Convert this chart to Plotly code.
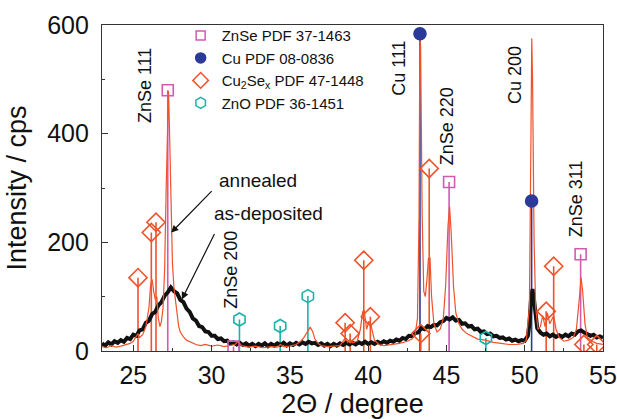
import plotly.graph_objects as go

# ---------------- data ----------------
asdep_x = [23.0, 23.2, 23.4, 23.6, 23.8, 24.0, 24.2, 24.4, 24.6, 24.8, 25.0, 25.2, 25.4, 25.6, 25.8, 26.0, 26.2, 26.4,
           26.6, 26.8, 27.0, 27.2, 27.4, 27.6, 27.8, 28.0, 28.2, 28.4, 28.6, 28.8, 29.0, 29.2, 29.4, 29.6, 29.8, 30.0,
           30.2, 30.4, 30.6, 30.8, 31.0, 31.2, 31.4, 31.6, 31.8, 32.0, 32.2, 32.4, 32.6, 32.8, 33.0, 33.2, 33.4, 33.6,
           33.8, 34.0, 34.2, 34.4, 34.6, 34.8, 35.0, 35.2, 35.4, 35.6, 35.8, 36.0, 36.2, 36.4, 36.6, 36.8, 37.0, 37.2,
           37.4, 37.6, 37.8, 38.0, 38.2, 38.4, 38.6, 38.8, 39.0, 39.2, 39.4, 39.6, 39.8, 40.0, 40.2, 40.4, 40.6, 40.8,
           41.0, 41.2, 41.4, 41.6, 41.8, 42.0, 42.2, 42.4, 42.6, 42.8, 43.0, 43.2, 43.4, 43.6, 43.8, 44.0, 44.2, 44.4,
           44.6, 44.8, 45.0, 45.2, 45.4, 45.6, 45.8, 46.0, 46.2, 46.4, 46.6, 46.8, 47.0, 47.2, 47.4, 47.6, 47.8, 48.0,
           48.2, 48.4, 48.6, 48.8, 49.0, 49.2, 49.4, 49.6, 49.8, 50.0, 50.2, 50.3, 50.4, 50.5, 50.6, 50.7, 50.8, 51.0,
           51.2, 51.4, 51.6, 51.8, 52.0, 52.2, 52.4, 52.6, 52.8, 53.0, 53.2, 53.4, 53.6, 53.8, 54.0, 54.2, 54.4, 54.6,
           54.8, 55.0]
asdep_y = [14, 10, 16, 12, 18, 15, 20, 17, 24, 22, 30, 28, 38, 40, 52, 56, 68, 72,
           84, 90, 102, 108, 117, 110, 106, 94, 90, 78, 72, 60, 56, 46, 44, 36, 35, 28,
           28, 22, 23, 18, 19, 14, 16, 12, 15, 11, 14, 10, 13, 9, 13, 10, 14, 9,
           13, 10, 14, 11, 15, 10, 14, 11, 15, 12, 16, 13, 17, 14, 15, 11, 14, 10,
           13, 9, 13, 10, 14, 11, 15, 12, 15, 12, 16, 13, 17, 13, 16, 13, 17, 14,
           18, 15, 19, 17, 21, 19, 24, 22, 28, 27, 33, 34, 42, 40, 46, 44, 48, 47,
           53, 55, 61, 58, 62, 56, 57, 50, 51, 45, 46, 40, 41, 35, 36, 31, 32, 27,
           28, 24, 25, 21, 23, 19, 21, 18, 20, 19, 28, 50, 95, 114, 92, 60, 42, 34,
           30, 32, 27, 30, 26, 29, 26, 30, 27, 32, 30, 36, 38, 34, 30, 28, 30, 25,
           27, 24]

ann_x = [23.0, 23.3, 23.6, 23.9, 24.2, 24.5, 24.8, 25.0, 25.2, 25.3, 25.4, 25.6, 25.8, 26.0, 26.1, 26.2, 26.3, 26.4,
         26.5, 26.6, 26.7, 26.8, 26.9, 27.0, 27.1, 27.2, 27.25, 27.3, 27.4, 27.5, 27.6, 27.7, 27.8, 27.9, 28.0, 28.2,
         28.4, 28.6, 28.8, 29.0, 29.3, 29.6, 30.0, 30.4, 30.8, 31.2, 31.5, 31.7, 31.9, 32.3, 32.8, 33.3, 33.8, 34.2,
         34.4, 34.6, 35.0, 35.4, 35.7, 35.9, 36.1, 36.3, 36.45, 36.6, 36.8, 37.0, 37.4, 37.8, 38.2, 38.4, 38.55, 38.7,
         38.85, 39.0, 39.3, 39.5, 39.65, 39.75, 39.9, 40.05, 40.2, 40.4, 40.7, 41.0, 41.5, 42.0, 42.5, 42.8, 43.0,
         43.15, 43.25, 43.3, 43.35, 43.45, 43.55, 43.65, 43.75, 43.85, 43.95, 44.05, 44.2, 44.4, 44.6, 44.8, 44.95,
         45.1, 45.2, 45.3, 45.45, 45.6, 45.8, 46.0, 46.3, 46.6, 47.0, 47.5, 48.0, 48.5, 49.0, 49.5, 49.9, 50.1, 50.3,
         50.4, 50.45, 50.5, 50.6, 50.7, 50.85, 51.0, 51.15, 51.3, 51.45, 51.6, 51.85, 52.0, 52.2, 52.5, 52.8, 53.1,
         53.3, 53.5, 53.6, 53.7, 53.85, 54.0, 54.3, 54.6, 55.0]
ann_y = [8, 6, 10, 7, 9, 12, 14, 18, 26, 32, 25, 30, 45, 80, 120, 132, 110, 95,
         100, 60, 45, 55, 80, 150, 300, 470, 478, 420, 250, 160, 115, 90, 65, 45, 35, 26,
         20, 17, 15, 12, 10, 12, 9, 11, 8, 10, 12, 18, 10, 7, 9, 6, 8, 7,
         12, 8, 9, 12, 18, 25, 35, 44, 36, 22, 14, 10, 8, 9, 10, 18, 24, 16,
         22, 15, 18, 40, 72, 75, 40, 55, 45, 20, 12, 10, 12, 14, 18, 22, 30,
         60, 250, 575, 560, 250, 110, 100, 130, 170, 172, 100, 50, 35, 40, 60, 120,
         230, 266, 220, 120, 70, 50, 40, 32, 28, 22, 20, 16, 14, 12, 12, 14, 20, 80,
         400, 575, 500, 200, 80, 40, 45, 65, 45, 70, 50, 65, 40, 25, 18, 20, 25,
         40, 100, 135, 110, 50, 25, 18, 14, 12]

znse_pos = [27.2, 31.4, 45.17, 53.57]
znse_int = [480, 8, 311, 178]
cu_pos = [43.31, 50.44]
cu_int = [584, 276]
cu2se_pos = [25.30, 26.15, 26.45, 38.53, 38.85, 39.72, 40.14, 43.36, 43.90, 51.37, 51.85, 53.78, 54.60]
cu2se_int = [135, 218, 237, 52, 32, 167, 63, 32, 336, 73, 156, 12, 12]
zno_pos = [31.78, 34.38, 36.15, 47.52]
zno_int = [58, 46, 101, 24]

peak_labels = ["ZnSe 111", "ZnSe 200", "Cu 111", "ZnSe 220", "Cu 200", "ZnSe 311"]
peak_label_x = [25.76, 31.19, 41.99, 45.05, 49.38, 53.27]
peak_label_y = [488, 150, 520, 414, 508, 281]

legend_names = ["ZnSe PDF 37-1463", "Cu PDF 08-0836", "Cu<sub>2</sub>Se<sub>x</sub> PDF 47-1448", "ZnO PDF 36-1451"]

x_ticks = [25, 30, 35, 40, 45, 50, 55]
y_ticks = [0, 200, 400, 600]

# ---------------- styles ----------------
C_ZNSE = "#D25AB0"
C_CU = "#2B3A98"
C_CU2SE = "#F0522A"
C_ZNO = "#17B5AA"
C_ANN = "#F0522A"

FONT = "Liberation Sans, Arial, sans-serif"

fig = go.Figure()


def sticks(pos, inten):
    xs, ys = [], []
    for p, h in zip(pos, inten):
        xs += [p, p, None]
        ys += [0, h, None]
    return xs, ys


stick_sets = [
    (znse_pos, znse_int, C_ZNSE, "square-open", 11),
    (cu_pos, cu_int, C_CU, "circle", 12),
    (cu2se_pos, cu2se_int, C_CU2SE, "diamond-open", 14),
    (zno_pos, zno_int, C_ZNO, "hexagon-open", 13),
]

for pos, inten, col, sym, sz in stick_sets:
    sx, sy = sticks(pos, inten)
    fig.add_trace(go.Scatter(x=sx, y=sy, mode="lines", line=dict(color=col, width=1.6),
                             showlegend=False, hoverinfo="skip"))

# curves
fig.add_trace(go.Scatter(x=asdep_x, y=asdep_y, mode="lines", line=dict(color="#111111", width=4),
                         showlegend=False))
fig.add_trace(go.Scatter(x=ann_x, y=ann_y, mode="lines", line=dict(color=C_ANN, width=1.2),
                         showlegend=False))

# markers on stick tops
for pos, inten, col, sym, sz in stick_sets:
    fig.add_trace(go.Scatter(x=pos, y=inten, mode="markers",
                             marker=dict(symbol=sym, size=sz, color=col, line=dict(color=col, width=1.6)),
                             showlegend=False))

# legend-only entries
for (pos, inten, col, sym, sz), name in zip(stick_sets, legend_names):
    fig.add_trace(go.Scatter(x=[None], y=[None], mode="markers", name=name,
                             marker=dict(symbol=sym, size=sz - 2, color=col, line=dict(color=col, width=1.5))))

annotations = []
for t, lx, ly in zip(peak_labels, peak_label_x, peak_label_y):
    annotations.append(dict(x=lx, y=ly, xref="x", yref="y", text=t, textangle=-90, showarrow=False,
                            xanchor="center", yanchor="middle",
                            font=dict(family=FONT, size=18, color="#111111")))

# curve labels with arrows
annotations.append(dict(x=30.34, y=314, xref="x", yref="y", text="annealed", showarrow=False,
                        xanchor="left", yanchor="middle", font=dict(family=FONT, size=19, color="#111111")))
annotations.append(dict(x=27.42, y=218, ax=30.10, ay=297, xref="x", yref="y", axref="x", ayref="y",
                        text="", showarrow=True, arrowhead=2, arrowsize=1.2, arrowwidth=1.2,
                        arrowcolor="#111111"))
annotations.append(dict(x=30.02, y=253, xref="x", yref="y", text="as-deposited", showarrow=False,
                        xanchor="left", yanchor="middle", font=dict(family=FONT, size=19, color="#111111")))
annotations.append(dict(x=28.1, y=95, ax=30.23, ay=218, xref="x", yref="y", axref="x", ayref="y",
                        text="", showarrow=True, arrowhead=2, arrowsize=1.2, arrowwidth=1.2,
                        arrowcolor="#111111"))

fig.update_layout(
    width=617, height=419,
    margin=dict(l=102, r=14, t=25, b=68, autoexpand=False),
    paper_bgcolor="white", plot_bgcolor="white",
    font=dict(family=FONT, color="#111111"),
    annotations=annotations,
    legend=dict(x=0.155, y=1.018, xanchor="left", yanchor="top", bgcolor="rgba(0,0,0,0)",
                font=dict(family=FONT, size=15, color="#111111"), tracegroupgap=0,
                itemwidth=32),
)

fig.update_xaxes(range=[23, 55], tickmode="array", tickvals=x_ticks,
                 ticks="inside", ticklen=6, tickwidth=1, tickcolor="#333333",
                 minor=dict(tickvals=[27.5, 32.5, 37.5, 42.5, 47.5, 52.5], ticks="inside", ticklen=3,
                            tickcolor="#333333"),
                 showline=True, linecolor="#333333", linewidth=1.2, mirror=True, showgrid=False,
                 zeroline=False, automargin=False, ticklabelstandoff=2,
                 tickfont=dict(size=25), title=dict(text="2Θ / degree", font=dict(size=27), standoff=4))
fig.update_yaxes(range=[0, 600], tickmode="array", tickvals=y_ticks,
                 ticks="inside", ticklen=6, tickwidth=1, tickcolor="#333333",
                 minor=dict(tickvals=[100, 300, 500], ticks="inside", ticklen=3, tickcolor="#333333"),
                 showline=True, linecolor="#333333", linewidth=1.2, mirror=True, showgrid=False,
                 zeroline=False, automargin=False, ticklabelstandoff=7,
                 tickfont=dict(size=25), title=dict(text="Intensity / cps", font=dict(size=27), standoff=12))

fig.write_html("out.html", config={"displayModeBar": False},
               post_script="document.body.style.margin='0';")
